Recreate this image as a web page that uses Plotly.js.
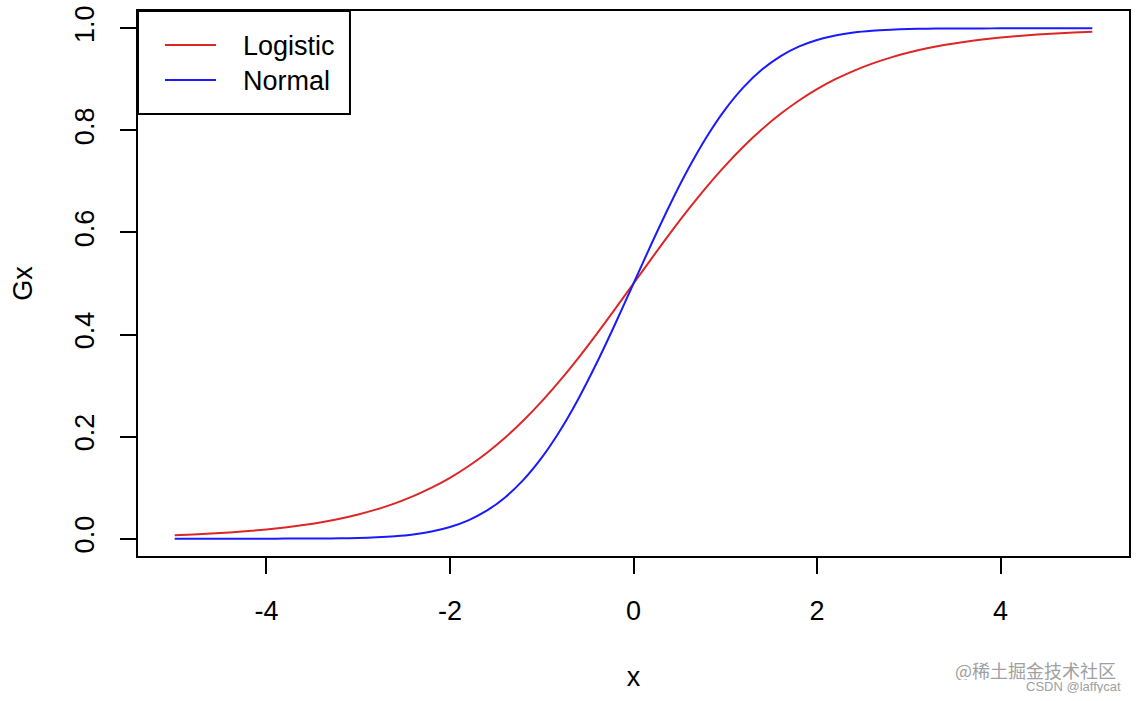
<!DOCTYPE html>
<html>
<head>
<meta charset="utf-8">
<script src="https://cdn.plot.ly/plotly-3.0.1.min.js"></script>
<style>html,body{margin:0;padding:0;background:#fff;}#plot{width:1137px;height:701px;}</style>
</head>
<body>
<div id="plot"></div>
<script>
var xValues = [-5.0,-4.8,-4.6,-4.4,-4.2,-4.0,-3.8,-3.6,-3.4,-3.2,-3.0,-2.8,-2.6,-2.4,-2.2,-2.0,-1.8,-1.6,-1.4,-1.2,-1.0,-0.8,-0.6,-0.4,-0.2,0.0,
  0.2,0.4,0.6,0.8,1.0,1.2,1.4,1.6,1.8,2.0,2.2,2.4,2.6,2.8,3.0,3.2,3.4,3.6,3.8,4.0,4.2,4.4,4.6,4.8,5.0];
var logisticGx = [0.0067,0.0082,0.0100,0.0121,0.0148,0.0180,0.0219,0.0266,0.0323,0.0392,0.0474,0.0573,0.0691,0.0832,0.0998,0.1192,0.1419,0.1680,0.1978,0.2315,0.2689,0.3100,0.3543,0.4013,0.4502,0.5000,
  0.5498,0.5987,0.6457,0.6900,0.7311,0.7685,0.8022,0.8320,0.8581,0.8808,0.9003,0.9168,0.9309,0.9427,0.9526,0.9608,0.9677,0.9734,0.9781,0.9820,0.9852,0.9879,0.9900,0.9918,0.9933];
var normalGx = [0.0000,0.0000,0.0000,0.0000,0.0000,0.0000,0.0001,0.0002,0.0003,0.0007,0.0013,0.0026,0.0047,0.0082,0.0139,0.0228,0.0359,0.0548,0.0808,0.1151,0.1587,0.2119,0.2743,0.3446,0.4207,0.5000,
  0.5793,0.6554,0.7257,0.7881,0.8413,0.8849,0.9192,0.9452,0.9641,0.9772,0.9861,0.9918,0.9953,0.9974,0.9987,0.9993,0.9997,0.9998,0.9999,1.0000,1.0000,1.0000,1.0000,1.0000,1.0000];
var seriesNames = ["Logistic", "Normal"];
var seriesColors = ["#dd2626", "#1a1aff"];
var xTicks = [-4, -2, 0, 2, 4];
var xTickLabels = ["-4", "-2", "0", "2", "4"];
var yTicks = [0, 0.2, 0.4, 0.6, 0.8, 1.0];
var yTickLabels = ["0.0", "0.2", "0.4", "0.6", "0.8", "1.0"];

var font = "Liberation Sans, Arial, sans-serif";
var fs = 27;
var traces = [
  {x: xValues, y: logisticGx, name: seriesNames[0], type: "scatter", mode: "lines",
   line: {color: seriesColors[0], width: 2, shape: "spline", smoothing: 0.8}},
  {x: xValues, y: normalGx, name: seriesNames[1], type: "scatter", mode: "lines",
   line: {color: seriesColors[1], width: 2, shape: "spline", smoothing: 0.8}}
];

// R-style legend box (drawn in paper coordinates)
var legX0 = 0, legX1 = 0.2139, legY0 = 0.8110, legY1 = 1;
var legLineX0 = 0.02725, legLineX1 = 0.07871, legTextX = 0.1039;
var legRowY = [0.9376, 0.8734];
var shapes = [
  {type: "rect", xref: "paper", yref: "paper", x0: legX0, x1: legX1, y0: legY0, y1: legY1,
   line: {color: "#000", width: 2}, fillcolor: "#fff", layer: "above"}
];
var annotations = [];
for (var i = 0; i < seriesNames.length; i++) {
  shapes.push({type: "line", xref: "paper", yref: "paper", x0: legLineX0, x1: legLineX1,
               y0: legRowY[i], y1: legRowY[i], line: {color: seriesColors[i], width: 2}, layer: "above"});
  annotations.push({xref: "paper", yref: "paper", x: legTextX, y: legRowY[i], xanchor: "left", yanchor: "middle",
                    yshift: -1, text: seriesNames[i], showarrow: false,
                    font: {family: font, size: fs, color: "#000"}});
}
annotations.push(
  {xref: "paper", yref: "paper", x: 1.0, y: 0, xanchor: "right", yanchor: "middle", yshift: -113.5, xshift: -11,
   text: "@稀土掘金技术社区", showarrow: false, height: 20, valign: "middle",
   font: {family: "Noto Sans CJK SC, sans-serif", size: 18, color: "#a0a0a0"}},
  {xref: "paper", yref: "paper", x: 1.0, y: 0, xanchor: "right", yanchor: "middle", yshift: -130.5, xshift: -6,
   text: "CSDN @laffycat", showarrow: false, height: 13, valign: "middle",
   font: {family: font, size: 13, color: "#a0a0a0"}}
);

var layout = {
  width: 1137, height: 701,
  margin: {l: 138, r: 8, t: 11, b: 145},
  paper_bgcolor: "#fff", plot_bgcolor: "#fff",
  font: {family: font, size: fs, color: "#000"},
  showlegend: false,
  xaxis: {range: [-5.4, 5.4], tickmode: "array", tickvals: xTicks, ticktext: xTickLabels,
          ticks: "outside", ticklen: 16, tickwidth: 2, tickcolor: "#000",
          showline: true, mirror: true, linecolor: "#000", linewidth: 2,
          showgrid: false, zeroline: false, ticklabelstandoff: 14,
          tickfont: {family: font, size: fs, color: "#000"},
          title: {text: "x", font: {family: font, size: fs, color: "#000"}, standoff: 42}},
  yaxis: {range: [-0.034, 1.034], tickmode: "array", tickvals: yTicks, ticktext: yTickLabels,
          ticks: "outside", ticklen: 16, tickwidth: 2, tickcolor: "#000", tickangle: -90,
          showline: true, mirror: true, linecolor: "#000", linewidth: 2,
          showgrid: false, zeroline: false, ticklabelstandoff: 15,
          tickfont: {family: font, size: fs, color: "#000"},
          title: {text: "Gx", font: {family: font, size: fs, color: "#000"}, standoff: 30}},
  shapes: shapes,
  annotations: annotations
};
Plotly.newPlot("plot", traces, layout, {displayModeBar: false, staticPlot: true});
</script>
</body>
</html>
